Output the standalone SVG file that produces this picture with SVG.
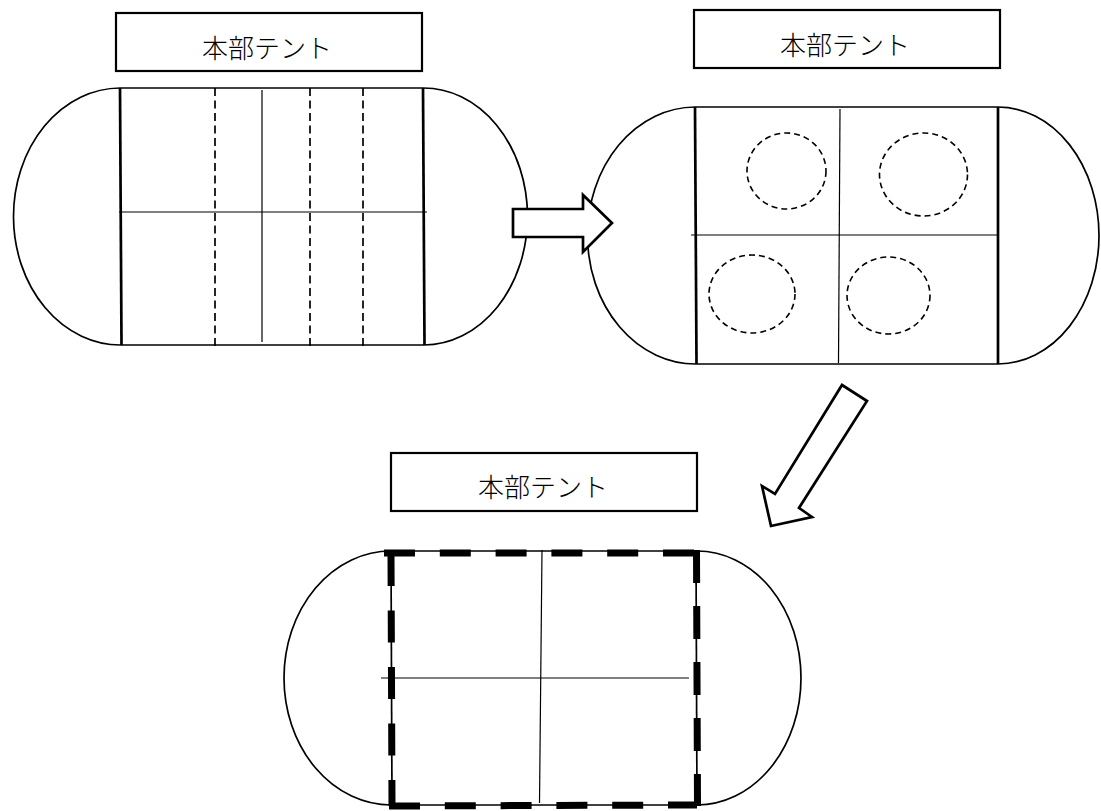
<svg xmlns="http://www.w3.org/2000/svg" width="1101" height="811" viewBox="0 0 1101 811">
<style>
.bg{fill:#ffffff}
.label rect{fill:#ffffff;stroke:#000;stroke-width:2.2}
.label text{font-family:'Noto Sans CJK JP','Noto Sans CJK SC',sans-serif;font-size:26px;font-weight:300;fill:#000;text-anchor:middle}
.outline{fill:none;stroke:#000;stroke-width:1.7}
.side{fill:none;stroke:#000;stroke-width:2.7}
.thin{fill:none;stroke:#000;stroke-width:1.2}
.dash{fill:none;stroke:#000;stroke-width:1.7;stroke-dasharray:8 4.5}
.circ{fill:none;stroke:#000;stroke-width:1.6;stroke-dasharray:6 4}
.bold{fill:none;stroke:#000;stroke-width:7}
.arrow{fill:#ffffff;stroke:#000;stroke-width:2.7;stroke-linejoin:miter}
</style>
<rect class="bg" x="0" y="0" width="1101" height="811"/>

<g id="label1" class="label">
<rect x="116" y="13" width="306" height="58"/>
<text x="267" y="58">本部テント</text>
</g>
<g id="label2" class="label">
<rect x="694" y="10" width="306" height="58"/>
<text x="845" y="55">本部テント</text>
</g>
<g id="label3" class="label">
<rect x="391" y="453" width="306" height="58"/>
<text x="543" y="497">本部テント</text>
</g>

<g id="tent-layout-1">
<path class="outline" d="M120 88 A107 128.5 0 0 0 121 345 M424 345 A104 128.5 0 0 0 423 88"/>
<line class="outline" x1="120" y1="88" x2="423" y2="88"/>
<line class="outline" x1="121" y1="345" x2="424" y2="345"/>
<line class="side" x1="120" y1="88" x2="121.5" y2="345"/>
<line class="side" x1="423" y1="88" x2="424.5" y2="345"/>
<line class="thin" x1="119" y1="212" x2="427" y2="212"/>
<line class="thin" x1="262" y1="90" x2="262" y2="342"/>
<line class="dash" x1="215" y1="88" x2="215" y2="348"/>
<line class="dash" x1="310" y1="88" x2="310" y2="348"/>
<line class="dash" x1="363" y1="88" x2="363" y2="348"/>
</g>

<g id="tent-layout-2">
<path class="outline" d="M695 107 A108 128.5 0 0 0 696 364 M998 364 A101 128.5 0 0 0 998 107"/>
<line class="outline" x1="695" y1="107" x2="998" y2="107"/>
<line class="outline" x1="696" y1="364" x2="998" y2="364"/>
<line class="side" x1="695" y1="107" x2="696.5" y2="364"/>
<line class="side" x1="998" y1="107" x2="998" y2="364"/>
<line class="thin" x1="691" y1="235" x2="998" y2="235"/>
<line class="thin" x1="840" y1="109" x2="838.5" y2="363"/>
<ellipse class="circ" cx="786.5" cy="171" rx="39.5" ry="38"/>
<ellipse class="circ" cx="923.5" cy="174.5" rx="44" ry="41.5"/>
<ellipse class="circ" cx="752" cy="294" rx="43" ry="39"/>
<ellipse class="circ" cx="888.5" cy="295.5" rx="41.5" ry="38.5"/>
</g>

<g id="tent-layout-3">
<path class="outline" d="M391 551 A107 127 0 0 0 391 805 M697 805 A104 127 0 0 0 697 551"/>
<line class="outline" x1="384" y1="551" x2="697" y2="551"/>
<line class="outline" x1="389" y1="805" x2="697" y2="805"/>
<line class="outline" x1="391" y1="551" x2="392" y2="805"/>
<line class="outline" x1="696" y1="551" x2="697" y2="805"/>
<line class="thin" x1="381" y1="678" x2="689" y2="678"/>
<line class="thin" x1="542" y1="550" x2="539.5" y2="803"/>
<line class="bold" x1="384" y1="553" x2="697" y2="553" stroke-dasharray="31 24.8"/>
<line class="bold" x1="391" y1="554" x2="392" y2="806" stroke-dasharray="32 24.5"/>
<line class="bold" x1="696.5" y1="550" x2="697.5" y2="806" stroke-dasharray="33 23"/>
<line class="bold" x1="389" y1="806" x2="697" y2="805" stroke-dasharray="31 24.8"/>
</g>

<g id="connectors">
<polygon id="arrow-right" class="arrow" points="513,209 583,209 583,195 612,223 583,252 583,237 513,237"/>
<polygon id="arrow-down-left" class="arrow" points="842,385 867,401 799,508 812,517 771,526 762,486 775,494"/>
</g>
</svg>
